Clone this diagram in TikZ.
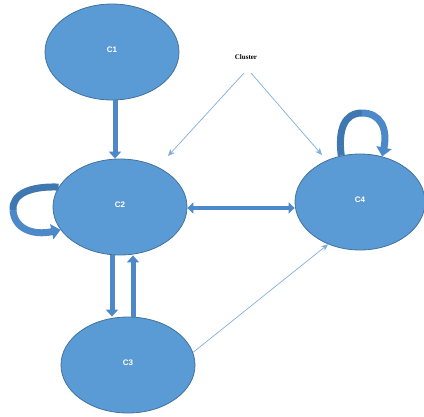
\documentclass[tikz,border=0pt]{standalone}
\usepackage{fontspec}
\setmainfont{Liberation Serif}
\newfontfamily\lsans{Liberation Sans}
\usetikzlibrary{shapes.geometric,arrows.meta}
\definecolor{cfill}{HTML}{5B9BD5}
\definecolor{cline}{HTML}{41719C}
\definecolor{carrow}{HTML}{4D89C8}
\definecolor{cdark}{HTML}{3F78B0}
\definecolor{cthin}{HTML}{7FAEDD}
\tikzset{
  cluster/.style={ellipse, draw=cline, line width=0.8pt, fill=cfill, inner sep=0pt,
    minimum width=134pt, minimum height=96pt, text=white,
    font=\lsans\bfseries\fontsize{8}{9}\selectfont},
  fat/.style={draw=carrow, line width=5pt, -{Triangle[width=12pt,length=7pt]}},
  fatboth/.style={draw=carrow, line width=4.5pt, {Triangle[width=11pt,length=6pt]}-{Triangle[width=11pt,length=6pt]}},
  loopband/.style={line width=7pt},
  loophead/.style={-{Triangle[width=15pt,length=9pt]}},
  thin/.style={draw=cthin, line width=0.7pt, -{Stealth[width=6pt,length=7pt]}},
  lbl/.style={font=\bfseries\fontsize{7}{8}\selectfont, text=black}
}
\begin{document}
\begin{tikzpicture}[x=1pt,y=-1pt]
\useasboundingbox (0,0) rectangle (424,416);
\node[cluster] (c1) at (112,52) {\raisebox{4pt}{C1}};
\node[cluster] (c2) at (120,207) {\raisebox{4pt}{C2}};
\node[cluster, minimum width=130pt] (c4) at (360,202) {\raisebox{4pt}{C4}};
\node[cluster] (c3) at (128,365) {\raisebox{4pt}{C3}};
\node[lbl] (cl) at (246,57) {Cluster};
\coordinate (t1) at (168,156);
\coordinate (t2) at (322,155);
\coordinate (l2) at (13,210);
\coordinate (l4) at (362,113);
% thin arrows
\draw[thin] ([xshift=-2pt,yshift=-10pt]cl.south) -- (t1);
\draw[thin] ([xshift=5pt,yshift=-10pt]cl.south) -- (t2);
\draw[thin] (c3.11) -- (c4.233);
% thick arrows
\draw[fat] ([xshift=3pt]c1.south) -- ([xshift=3pt]c1.south |- c2.north);
\draw[fatboth] ([yshift=-1pt]c2.east) -- ([yshift=-1pt]c2.east -| c4.west);
\draw[fat] ([xshift=-8pt]c2.south) -- ([xshift=-8pt]c2.south |- c3.north);
\draw[fat] ([xshift=5pt]c3.north) -- ([xshift=5pt]c3.north |- c2.south);
% self loops
\draw[loopband, draw=cdark] (c2.162) .. controls (30,186) and (12,194) .. (l2);
\draw[loopband, loophead, draw=carrow] (l2) .. controls (14,228) and (32,236) .. (c2.201);
\draw[loopband, draw=cdark] (c4.112) .. controls (338,130) and (344,113) .. (l4);
\draw[loopband, loophead, draw=carrow] (l4) .. controls (380,113) and (388,128) .. (c4.64);
\end{tikzpicture}
\end{document}
